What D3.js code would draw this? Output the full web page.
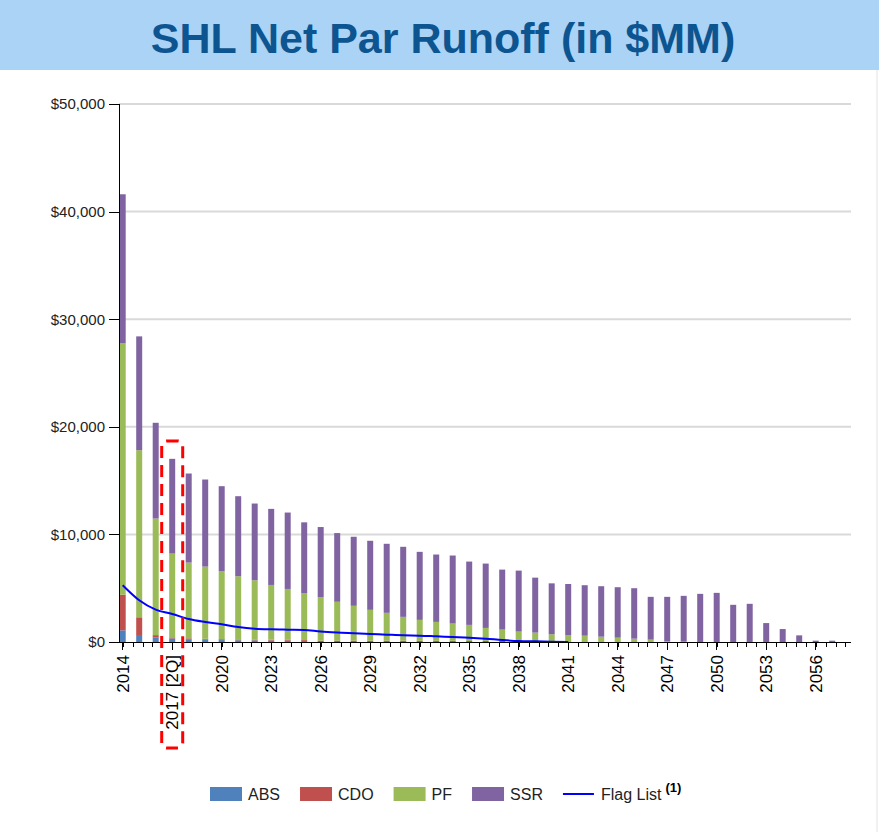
<!DOCTYPE html>
<meta charset="utf-8">
<style>
body { margin: 0; background: #fff; }
svg { display: block; font-family: Arial, "Liberation Sans", sans-serif; }
.grid line { stroke: #d9d9d9; stroke-width: 2px; }
.axis path, .axis line { stroke: #000; shape-rendering: crispEdges; }
.axis text { fill: #222; }
</style>
<body>
<script src="https://cdnjs.cloudflare.com/ajax/libs/d3/7.8.5/d3.min.js"></script>
<script>
// categories (years), 2017 is shown as 2Q
var years = ["2014","2015","2016","2017 [2Q]","2018","2019","2020","2021","2022","2023",
  "2024","2025","2026","2027","2028","2029","2030","2031","2032","2033",
  "2034","2035","2036","2037","2038","2039","2040","2041","2042","2043",
  "2044","2045","2046","2047","2048","2049","2050","2051","2052","2053",
  "2054","2055","2056","2057"];

// stacked series, $MM
var abs = [1085,651,440,330,260,217,180,160,150,130,120,100,0,0,0,0,0,0,0,0,
  0,0,0,0,0,0,0,0,0,0,0,0,0,0,0,0,0,0,0,0,0,0,0,0];
var cdo = [3318,1644,200,100,80,80,80,80,80,80,80,80,130,130,130,120,120,120,110,110,
  110,100,100,90,80,30,20,0,0,0,0,0,0,0,0,0,0,0,0,0,0,0,0,0];
var pf = [23349,15534,10833,7787,7040,6711,6314,5869,5506,5092,4730,4368,4044,3608,3234,2870,2590,2216,1946,1759,
  1603,1489,1208,1063,886,842,696,620,586,494,401,309,216,93,30,0,0,0,0,0,0,0,0,0];
var ssr = [13860,10574,8899,8806,8279,8093,7907,7441,7132,7070,7101,6573,6510,6386,6417,6417,6417,6511,6323,6261,
  6324,5887,5981,5575,5669,5109,4735,4769,4691,4690,4691,4690,3981,4104,4260,4475,4567,3456,3549,1759,
  1204,617,123,123];

// flag list line (ends 2041)
var flagList = [5271,3876,3008,2605,2140,1860,1643,1395,1240,1178,1147,1121,965,872,810,748,685,623,592,530,
  467,405,312,187,93,62,31,0];

var yTicks = [0,10000,20000,30000,40000,50000];
var labelYears = years.filter(function(d, i) { return i % 3 === 0; });

var seriesNames = ["ABS","CDO","PF","SSR"];
var colors = {ABS: "#4f81bd", CDO: "#c0504d", PF: "#9bbb59", SSR: "#8064a2"};

var W = 879, H = 836;
var svg = d3.select("body").append("svg").attr("width", W).attr("height", H);

// title banner
svg.append("rect").attr("x", 0).attr("y", 0).attr("width", W).attr("height", 70)
  .attr("fill", "#abd3f5");
svg.append("text").attr("x", 443).attr("y", 53).attr("text-anchor", "middle")
  .style("font-size", "43px").style("font-weight", "bold").attr("fill", "#0d5590")
  .text("SHL Net Par Runoff (in $MM)");

// faint frame on the right
svg.append("line").attr("x1", W - 2).attr("x2", W - 2).attr("y1", 70).attr("y2", H - 4)
  .attr("stroke", "#e3e3e3");

// scales
var step = 16.5, x0 = 114.45;
var x = d3.scaleBand().domain(years).range([x0, x0 + step * years.length])
  .paddingInner(10.5 / 16.5).paddingOuter(10.5 / 33);
var xi = d3.scaleLinear().domain([0, years.length - 1])
  .range([x(years[0]) + x.bandwidth() / 2, x(years[years.length - 1]) + x.bandwidth() / 2]);
var y = d3.scaleLinear().domain([0, 50000]).range([642, 104]);

var axisX = 119, axisRight = 851;

// gridlines
svg.append("g").attr("class", "grid").selectAll("line")
  .data(yTicks.slice(1)).enter().append("line")
  .attr("x1", axisX).attr("x2", axisRight)
  .attr("y1", function(d) { return y(d); }).attr("y2", function(d) { return y(d); });

// stacked bars
var table = years.map(function(yr, i) {
  return {year: yr, ABS: abs[i], CDO: cdo[i], PF: pf[i], SSR: ssr[i]};
});
var stack = d3.stack().keys(seriesNames)(table);

svg.append("g").selectAll("g")
  .data(stack).enter().append("g")
  .attr("fill", function(d) { return colors[d.key]; })
  .selectAll("rect")
  .data(function(d) { return d; }).enter().append("rect")
  .attr("x", function(d) { return x(d.data.year); })
  .attr("width", x.bandwidth())
  .attr("y", function(d) { return y(d[1]); })
  .attr("height", function(d) { return Math.max(0, y(d[0]) - y(d[1])); });

// flag list line
var line = d3.line()
  .x(function(d, i) { return x(years[i]) + x.bandwidth() / 2; })
  .y(function(d) { return y(d); })
  .curve(d3.curveMonotoneX);
svg.append("path").datum(flagList)
  .attr("fill", "none").attr("stroke", "#0000ff").attr("stroke-width", 2)
  .attr("d", line);

// y axis
var yAxis = svg.append("g").attr("class", "axis")
  .attr("transform", "translate(" + axisX + ",0)")
  .call(d3.axisLeft(y).tickValues(yTicks).tickSize(10).tickPadding(4)
    .tickFormat(function(d) { return "$" + d3.format(",")(d); }));
yAxis.selectAll("text").style("font-size", "15px");

// x axis: minor ticks, major ticks with labels
svg.append("g").attr("class", "axis")
  .attr("transform", "translate(0,642)")
  .call(d3.axisBottom(xi).tickValues(d3.range(0, years.length + 0.01, 0.6))
    .tickSize(5).tickFormat(""))
  .select(".domain").remove();

var xAxis = svg.append("g").attr("class", "axis")
  .attr("transform", "translate(0,642)")
  .call(d3.axisBottom(x).tickValues(labelYears).tickSize(8));
xAxis.select(".domain").remove();
xAxis.selectAll("text")
  .style("font-size", "17px").style("fill", "#000")
  .attr("transform", "rotate(-90)")
  .attr("x", -13).attr("y", 0).attr("dy", "0.36em")
  .style("text-anchor", "end");

svg.append("line").attr("x1", axisX).attr("x2", axisRight)
  .attr("y1", 642.5).attr("y2", 642.5).attr("stroke", "#000");

// red dashed highlight around 2017 [2Q]
var hx = x("2017 [2Q]") + x.bandwidth() / 2;
svg.append("rect")
  .attr("x", hx - 10.5).attr("y", 441).attr("width", 21).attr("height", 307)
  .attr("rx", 5).attr("ry", 5)
  .attr("fill", "none").attr("stroke", "#ff0000").attr("stroke-width", 3)
  .attr("stroke-dasharray", "12,7");

// legend
var legend = svg.append("g").attr("transform", "translate(210,0)");
var lx = 0;
seriesNames.concat(["Flag List"]).forEach(function(name) {
  var g = legend.append("g").attr("transform", "translate(" + lx + ",0)");
  if (name === "Flag List") {
    g.append("line").attr("x1", 0).attr("x2", 31).attr("y1", 794).attr("y2", 794)
      .attr("stroke", "#0000ff").attr("stroke-width", 2);
  } else {
    g.append("rect").attr("x", 0).attr("y", 787).attr("width", 32).attr("height", 14)
      .attr("fill", colors[name]);
  }
  var t = g.append("text").attr("x", 38).attr("y", 799.5)
    .style("font-size", "16px").attr("fill", "#222").text(name);
  var w = t.node().getComputedTextLength();
  if (name === "Flag List") {
    g.append("text").attr("x", 38 + w + 4).attr("y", 792)
      .style("font-size", "13px").style("font-weight", "bold").attr("fill", "#000")
      .text("(1)");
  }
  lx += 38 + w + 20;
});
</script>
</body>
